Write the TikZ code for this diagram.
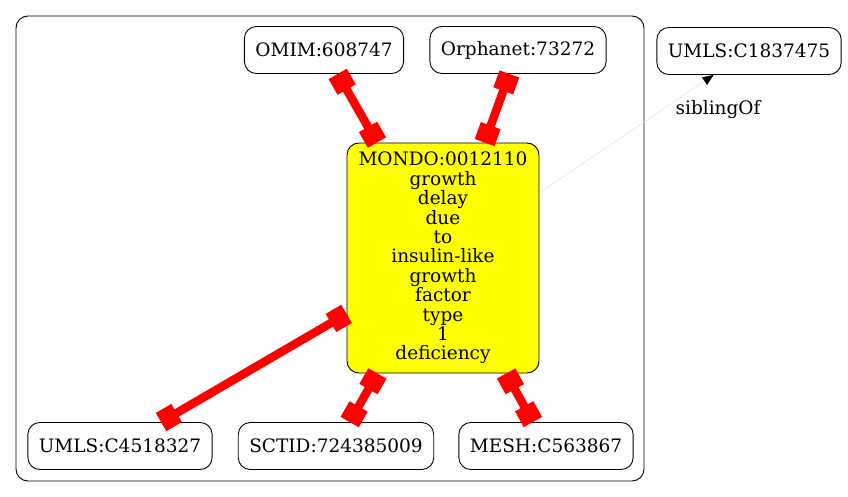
\documentclass[tikz,border=0pt]{standalone}
\usepackage{fontspec}
\setmainfont{DejaVu Serif}
\usepackage{tikz}
\usetikzlibrary{positioning,arrows.meta}
\definecolor{termyellow}{RGB}{255,255,0}

\begin{document}
\begin{tikzpicture}[x=1pt,y=-1pt,
  term/.style={draw=black, line width=0.9pt, rounded corners=12pt, fill=white,
    inner xsep=11pt, minimum height=47pt, font=\fontsize{18.5}{19.4}\selectfont},
  xref/.style={draw=red, line width=8.5pt,
    {Square[length=18pt,width=21pt]}-{Square[length=18pt,width=21pt]}},
  sibling/.style={draw=black!12, line width=0.5pt,
    -{Triangle[length=11pt,width=9pt,color=black]}}]
\useasboundingbox (0,0) rectangle (848,497);
\draw[line width=0.9pt, rounded corners=12pt] (16,16) rectangle (644,481);
\node[term] (omim) at (324,50) {OMIM:608747};
\node[term] (orpha) at (518,50) {Orphanet:73272};
\node[term] (umlsa) at (749,51) {UMLS:C1837475};
\node[term, fill=termyellow, align=center, minimum width=192pt, minimum height=230pt] (mondo) at (443,258)
  {MONDO:0012110\\growth\\delay\\due\\to\\insulin-like\\growth\\factor\\type\\1\\deficiency};
\node[term] (umlsb) at (120,446) {UMLS:C4518327};
\node[term] (sctid) at (336,446) {SCTID:724385009};
\node[term] (mesh) at (546,446) {MESH:C563867};
\draw[xref] (omim) -- (mondo);
\draw[xref] (orpha) -- (mondo);
\draw[xref] (umlsb) -- (mondo);
\draw[xref] (sctid) -- (mondo);
\draw[xref] (mesh) -- (mondo);
\draw[sibling] (mondo) -- (umlsa)
  node[pos=0.78, anchor=west, inner sep=0pt, yshift=-9pt, font=\fontsize{18.5}{19.4}\selectfont] {siblingOf};
\end{tikzpicture}
\end{document}
